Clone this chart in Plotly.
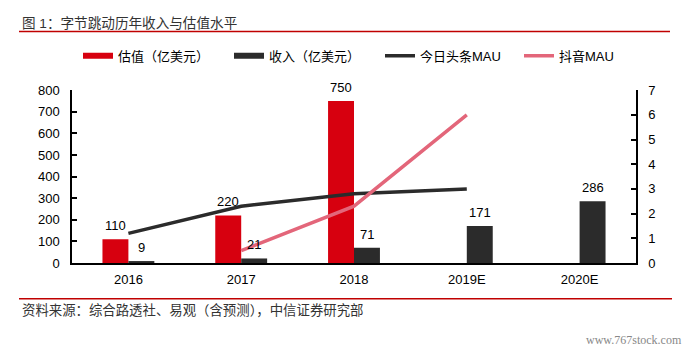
import plotly.graph_objects as go

categories = ["2016", "2017", "2018", "2019E", "2020E"]
valuation = [110, 220, 750, None, None]
revenue = [9, 21, 71, 171, 286]
toutiao_x = ["2016", "2017", "2018", "2019E"]
toutiao_mau = [1.2, 2.3, 2.8, 3.0]
douyin_x = ["2017", "2018", "2019E"]
douyin_mau = [0.5, 2.3, 6.0]

left_ticks = list(range(0, 801, 100))
right_ticks = list(range(0, 8))

RED = "#D7000F"
DARK = "#2B2B2B"
PINK = "#E3667A"
FONT = "Liberation Sans, Arial, Noto Sans CJK SC, sans-serif"

W, H = 687, 352
L, R, T, B = 72, 51, 86, 89
PW, PH = W - L - R, H - T - B


def px(x):
    return (x - L) / PW


def py(y):
    return (H - B - y) / PH


fig = go.Figure()
fig.add_trace(go.Bar(x=categories, y=valuation, name="估值（亿美元）",
                     marker=dict(color=RED, line=dict(width=0)), showlegend=False))
fig.add_trace(go.Bar(x=categories, y=revenue, name="收入（亿美元）",
                     marker=dict(color=DARK, line=dict(width=0)), showlegend=False))
fig.add_trace(go.Scatter(x=toutiao_x, y=toutiao_mau, name="今日头条MAU", mode="lines",
                         line=dict(color=DARK, width=3.5), yaxis="y2", showlegend=False))
fig.add_trace(go.Scatter(x=douyin_x, y=douyin_mau, name="抖音MAU", mode="lines",
                         line=dict(color=PINK, width=3.5), yaxis="y2", showlegend=False))

# legend entries
legend_items = [("估值（亿美元）", RED, 6, 106), ("收入（亿美元）", DARK, 6, 106),
                ("今日头条MAU", DARK, 3.5, 94), ("抖音MAU", PINK, 3.5, 60)]
for name, col, w, lw in legend_items:
    fig.add_trace(go.Scatter(x=[categories[0]], y=[None], mode="lines", name=name,
                             line=dict(color=col, width=w), legendwidth=lw,
                             showlegend=True))

annotations = []
for i, v in enumerate(valuation):
    if v is not None:
        annotations.append(dict(x=i, y=v, xref="x", yref="y", text=str(v), showarrow=False,
                                xshift=-13, yshift=4, yanchor="bottom",
                                font=dict(size=13, color="#000", family=FONT)))
for i, v in enumerate(revenue):
    annotations.append(dict(x=i, y=v, xref="x", yref="y", text=str(v), showarrow=False,
                            xshift=13, yshift=4, yanchor="bottom",
                            font=dict(size=13, color="#000", family=FONT)))

annotations.append(dict(x=px(20), y=py(17.5), xref="paper", yref="paper", xanchor="left",
                        yanchor="middle", showarrow=False, text="图 1：字节跳动历年收入与估值水平",
                        font=dict(size=13.6, color="#333", family=FONT)))
annotations.append(dict(x=px(20), y=py(311.7), xref="paper", yref="paper", xanchor="left",
                        yanchor="middle", showarrow=False,
                        text="资料来源：综合路透社、易观（含预测），中信证券研究部",
                        font=dict(size=13.4, color="#333", family=FONT)))
annotations.append(dict(x=px(684), y=py(341.7), xref="paper", yref="paper", xanchor="right",
                        yanchor="middle", showarrow=False, text="www.767stock.com",
                        font=dict(size=12, color="#888", family="Liberation Serif, serif")))

shapes = [
    dict(type="line", xref="paper", yref="paper", x0=px(19), x1=px(670), y0=py(26), y1=py(26),
         line=dict(color="#C00000", width=1.5)),
    dict(type="line", xref="paper", yref="paper", x0=px(19), x1=px(672), y0=py(299.5), y1=py(299.5),
         line=dict(color="#C00000", width=1.5)),
]

fig.update_layout(
    width=W, height=H,
    margin=dict(l=L, r=R, t=T, b=B),
    paper_bgcolor="white", plot_bgcolor="white",
    barmode="group", bargap=0.54, bargroupgap=0,
    font=dict(family=FONT, size=13, color="#000"),
    xaxis=dict(type="category", categoryorder="array", categoryarray=categories,
               range=[-0.5, len(categories) - 0.5],
               showline=True, linecolor="#000", linewidth=1.5, ticks="", showgrid=False,
               tickfont=dict(size=13, color="#000"), ticklabelstandoff=4),
    yaxis=dict(range=[0, 800], tickvals=left_ticks, showline=True, linecolor="#000", linewidth=1.5,
               ticks="inside", ticklen=5, tickcolor="#000", tickwidth=1.5, showgrid=False, zeroline=False,
               tickfont=dict(size=13, color="#000"), ticklabelstandoff=8),
    yaxis2=dict(range=[0, 7], tickvals=right_ticks, overlaying="y", side="right", showline=True,
                linecolor="#000", linewidth=1.5, ticks="inside", ticklen=5, tickcolor="#000", tickwidth=1.5,
                showgrid=False, zeroline=False, tickfont=dict(size=13, color="#000"), ticklabelstandoff=8),
    legend=dict(orientation="h", xref="container", yref="container", x=78 / W, y=1 - 55.7 / H,
                xanchor="left", yanchor="middle", font=dict(size=13, color="#000", family=FONT),
                itemwidth=30, bgcolor="rgba(0,0,0,0)", traceorder="normal"),
    annotations=annotations,
    shapes=shapes,
)

fig.write_html("out.html")
